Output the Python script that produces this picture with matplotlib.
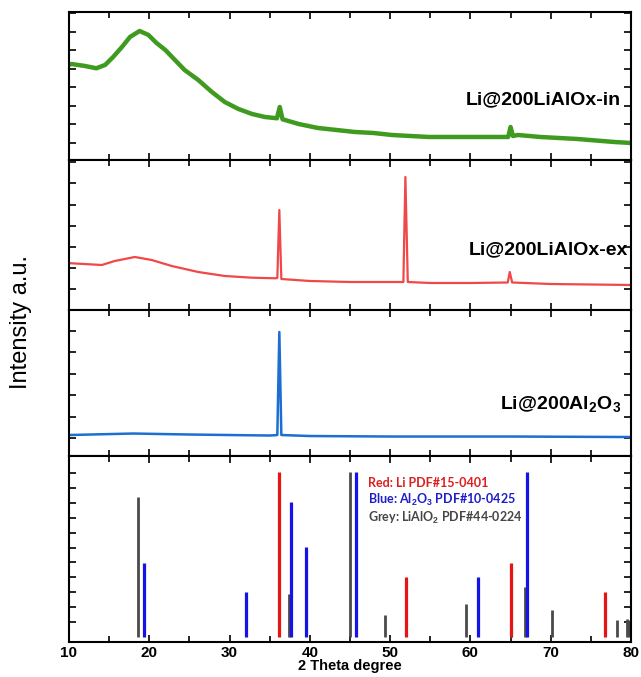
import numpy as np
import matplotlib.pyplot as plt
from matplotlib.ticker import MultipleLocator

plt.rcParams['font.family'] = 'Liberation Sans'
plt.rcParams['mathtext.fontset'] = 'custom'
plt.rcParams['mathtext.rm'] = 'Liberation Sans'
plt.rcParams['mathtext.bf'] = 'Liberation Sans:bold'

# measured patterns (2theta, intensity a.u.)
in_2theta = [10, 10.3, 12.0, 13.4, 14.5, 15.5, 16.6, 17.6, 18.8, 19.9, 20.9, 22.0,
             23.2, 24.4, 26.1, 27.8, 29.4, 31.1, 32.8, 34.4, 35.9, 36.25, 36.6,
             38.6, 41, 43.3, 45.6, 47.9, 50.2, 54.8, 59.4, 64.1, 64.7, 65.0, 65.3,
             65.9, 68.7, 73.3, 77.9, 80]
in_counts = [95, 96, 94, 91.7, 95, 103, 113, 123, 129, 125, 117, 110,
             100, 90, 80, 68, 58, 51, 46, 43, 41.7, 53, 40.7,
             36, 32, 30, 28, 27, 25, 23, 23, 23, 23, 33, 24,
             25, 23, 21, 18, 17]

ex_2theta = [10, 10.3, 14.1, 15.7, 18.2, 20.3, 22.8, 26.1, 29.4, 32.8, 35.7, 35.95,
             36.2, 36.45, 40, 45, 51.65, 51.9, 52.2, 55, 60, 64.65, 64.9, 65.2,
             70, 75, 80]
ex_counts = [47, 46.7, 45, 49, 53, 50, 44, 38, 34, 32.3, 31.7, 32,
             100, 31, 29, 28, 28, 133, 28, 27, 27, 27.5, 38, 27.5,
             26, 25.5, 25]

al_2theta = [10, 18, 25, 35, 35.95, 36.2, 36.45, 40, 50, 65, 80]
al_counts = [21, 22.5, 21.5, 20.5, 21, 124, 21, 20, 19.5, 19.5, 19]

# reference cards
li_pos = [36.2, 52.0, 65.0, 76.7]
li_int = [100, 36.6, 45.3, 27.4]
al2o3_pos = [19.4, 32.0, 37.7, 39.5, 45.8, 61.0, 67.0]
al2o3_int = [45.3, 27.4, 81.9, 54.9, 100, 36.6, 100]
lialo2_pos = [18.6, 37.4, 45.0, 49.4, 59.4, 65.1, 66.8, 70.1, 78.2, 79.5, 79.8]
lialo2_int = [85.4, 26.4, 100, 13.2, 20.3, 30.1, 30.5, 16.7, 10.2, 11.2, 10.2]

fig = plt.figure(figsize=(6.41, 6.77), dpi=100)

L, W = 0.1076, 0.8768
ax1 = fig.add_axes([L, 0.7637, W, 0.2186])
ax2 = fig.add_axes([L, 0.5421, W, 0.2216])
ax3 = fig.add_axes([L, 0.3264, W, 0.2157])
ax4 = fig.add_axes([L, 0.0517, W, 0.2747])

ax1.plot(in_2theta, in_counts, color='#3f9b1f', lw=3.2, solid_joinstyle='round')
ax2.plot(ex_2theta, ex_counts, color='#f04848', lw=1.6)
ax3.plot(al_2theta, al_counts, color='#1c6fd1', lw=1.8)

ax1.set_ylim(0, 148)
ax2.set_ylim(0, 150)
ax3.set_ylim(0, 146)
ax1.set_yticks(np.arange(17, 148, 18.5))
ax2.set_yticks(np.arange(21, 150, 21.1))
ax3.set_yticks(np.arange(18, 146, 21.4))

ax4.vlines(lialo2_pos, 0, lialo2_int, color='#4a4a4a', lw=2.0)
ax4.vlines(al2o3_pos, 0, al2o3_int, color='#1414e6', lw=2.3)
ax4.vlines(li_pos, 0, li_int, color='#e61414', lw=2.3)
ax4.set_ylim(-3, 110)
ax4.set_yticks(np.arange(9.2, 105, 9.03))

for ax in (ax1, ax2, ax3, ax4):
    ax.set_xlim(10, 80)
    ax.xaxis.set_major_locator(MultipleLocator(10))
    ax.xaxis.set_minor_locator(MultipleLocator(5))
    ax.tick_params(which='both', direction='in', top=True, right=True,
                   labelleft=False, width=1.2)
    ax.tick_params(which='major', length=5)
    ax.tick_params(which='minor', length=4)
    for s in ax.spines.values():
        s.set_linewidth(1.5)
    if ax is not ax4:
        ax.tick_params(labelbottom=False)

ax4.tick_params(labelsize=11, pad=3)
for t in ax4.get_xticklabels():
    t.set_fontweight('bold')
ax4.set_xlabel('2 Theta degree', fontsize=10.5, fontweight='bold', labelpad=-1)

ax1.text(0.982, 0.405, 'Li@200LiAlOx-in', transform=ax1.transAxes,
         ha='right', va='center', fontsize=14, fontweight='bold')
ax2.text(0.995, 0.40, 'Li@200LiAlOx-ex', transform=ax2.transAxes,
         ha='right', va='center', fontsize=14, fontweight='bold')
ax3.text(0.982, 0.35, r'Li@200Al$_\mathbf{2}$O$_\mathbf{3}$', transform=ax3.transAxes,
         ha='right', va='center', fontsize=14, fontweight='bold')

leg_font = dict(transform=ax4.transAxes, ha='left', va='center', fontsize=9,
                family='Lato', fontweight='bold')
ax4.text(0.532, 0.855, 'Red: Li PDF#15-0401', color='#dc1e1e', **leg_font)
ax4.text(0.532, 0.763, r'Blue: Al$_\mathbf{2}$O$_\mathbf{3}$ PDF#10-0425', color='#1e1ec8', **leg_font)
ax4.text(0.532, 0.667, r'Grey: LiAlO$_\mathbf{2}$ PDF#44-0224', color='#464646', **leg_font)

fig.text(0.033, 0.525, 'Intensity a.u.', rotation=90, ha='center', va='center',
         fontsize=17)

fig.savefig('out.png', dpi=100)
